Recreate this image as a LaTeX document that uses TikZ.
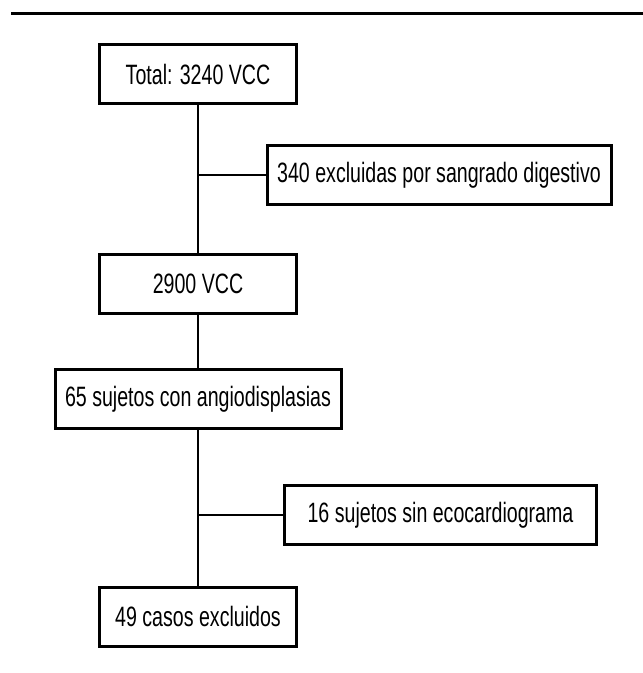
\documentclass[tikz,border=0pt]{standalone}
\usepackage{fontspec}
\setmainfont[FakeStretch=0.7]{Liberation Sans}
\begin{document}
\begin{tikzpicture}[x=1pt, y=-1pt,
    box/.style={rectangle, draw=black, line width=3pt, minimum height=59pt, inner sep=0pt, font=\fontsize{28}{32}\selectfont},
    link/.style={draw=black, line width=2.6pt},
    rule/.style={draw=black, line width=3pt},
  ]
  \useasboundingbox (0,0) rectangle (643,673);
  \draw[rule] (11,13.5) -- (643,13.5);

  % --- main column
  \node[box, minimum width=197pt] (total) at (198,74) {Total: 3240 VCC};
  \node[box, minimum width=197pt] (vcc) at (198,284) {2900 VCC};
  \node[box, minimum width=286pt] (angio) at (198,399) {65 sujetos con angiodisplasias};
  \node[box, minimum width=197pt] (casos) at (198,616.5) {49 casos excluidos};

  % --- exclusions to the right
  \node[box, minimum width=344pt] (sang) at (439,175) {340 excluidas por sangrado digestivo};
  \node[box, minimum width=312pt] (eco) at (440.5,515) {16 sujetos sin ecocardiograma};

  \draw[link] (total) -- (vcc);
  \draw[link] (vcc) -- (angio);
  \draw[link] (angio) -- (casos);
  \draw[link] (sang.west) -- (sang.west -| total.south);
  \draw[link] (eco.west) -- (eco.west -| angio.south);
\end{tikzpicture}
\end{document}
